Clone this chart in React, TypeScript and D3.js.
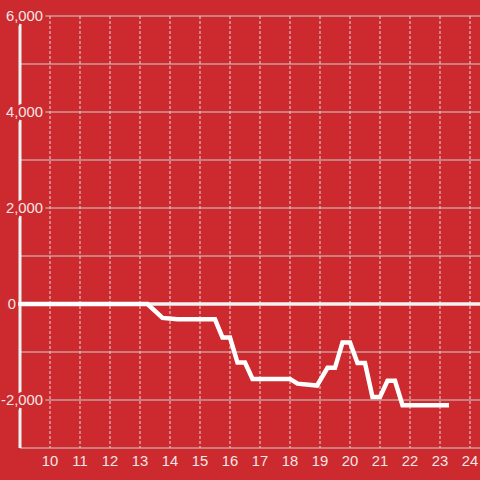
import React from "react";
import * as d3 from "d3";

const times: number[] = [9, 13.25, 13.75, 14.25, 15.5, 15.75, 16.0, 16.25, 16.5, 16.75, 18.0, 18.25, 18.9, 19.25, 19.5, 19.75, 20.0, 20.25, 20.5, 20.75, 21.0, 21.25, 21.5, 21.75, 23.3];
const values: number[] = [0, 0, -290, -320, -320, -700, -700, -1220, -1220, -1560, -1560, -1660, -1700, -1330, -1330, -800, -800, -1230, -1230, -1940, -1940, -1600, -1600, -2110, -2110];
const xTicks: number[] = [10, 11, 12, 13, 14, 15, 16, 17, 18, 19, 20, 21, 22, 23, 24];
const yLabelTicks: number[] = [6000, 4000, 2000, 0, -2000];
const yGridTicks: number[] = [6000, 5000, 4000, 3000, 2000, 1000, -1000, -2000, -3000];

const W = 480, H = 480;
const BG = "#cc2a2f";

export default function App() {
  const x = d3.scaleLinear().domain([9, 24]).range([20, 470]);
  const y = d3.scaleLinear().domain([-3000, 6000]).range([448, 16]);
  const fmt = d3.format(",");
  const line = d3.line<number>().x((_, i) => x(times[i])).y((d) => y(d));
  const pathD = line(values) || "";
  return (
    <svg width={W} height={H} style={{ position: "fixed", left: 0, top: 0, display: "block" }} fontFamily="'Liberation Sans', Arial, sans-serif">
      <rect x={0} y={0} width={W} height={H} fill={BG} />
      {xTicks.map((t) => (
        <line key={"vx" + t} x1={x(t)} x2={x(t)} y1={16} y2={448} stroke="#e8d8d8" strokeWidth={1} strokeDasharray="3,2" />
      ))}
      {yGridTicks.map((t) => (
        <line key={"hy" + t} x1={20} x2={W} y1={y(t)} y2={y(t)} stroke="#cfcfcf" strokeWidth={1} />
      ))}
      <line x1={20} x2={20} y1={16} y2={448} stroke="#f2f2f2" strokeWidth={3} />
      {yLabelTicks.map((t) => (
        <text key={"yl" + t} x={t === 0 ? 16 : 43} y={y(t)} dy="0.35em" textAnchor="end" fontSize={14.8} fill="#f3e6e6" stroke={BG} strokeWidth={t === 0 ? 0 : 6} style={{ paintOrder: "stroke" }}>
          {fmt(t).replace("−", "-")}
        </text>
      ))}
      <line x1={18} x2={W} y1={y(0)} y2={y(0)} stroke="#f2f2f2" strokeWidth={3.5} />
      {xTicks.map((t) => (
        <text key={"xl" + t} x={x(t)} y={461} dy="0.35em" textAnchor="middle" fontSize={14.8} fill="#f3e6e6">
          {t}
        </text>
      ))}
      <path d={pathD} fill="none" stroke="#ffffff" strokeWidth={4.5} strokeLinejoin="miter" />
    </svg>
  );
}
